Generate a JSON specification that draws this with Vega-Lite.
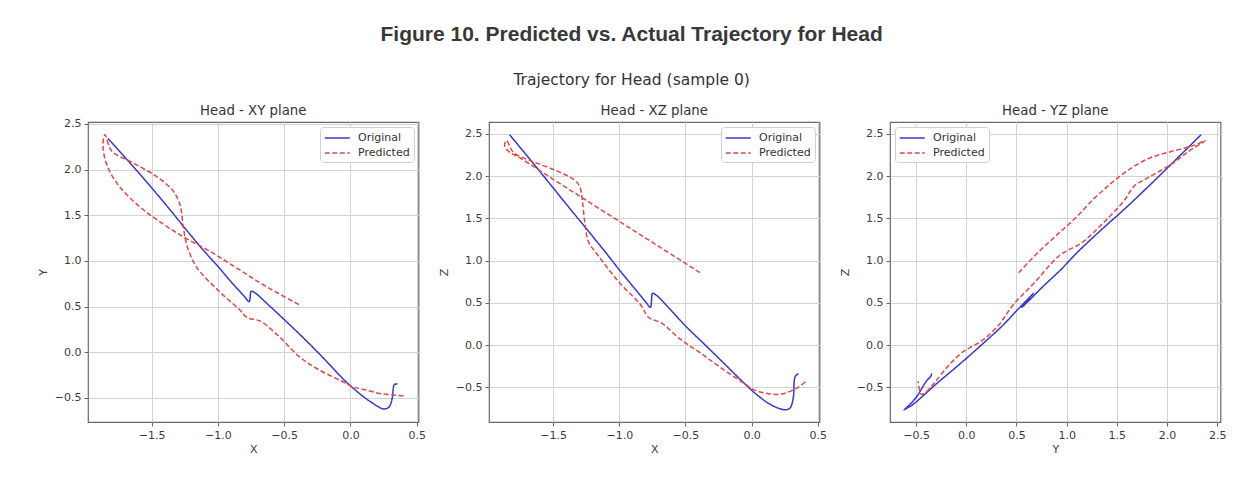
{
  "$schema": "https://vega.github.io/schema/vega-lite/v6.json",
  "background": "white",
  "padding": {"left": 36, "top": 24, "right": 5, "bottom": 5},
  "title": {
    "text": "Figure 10. Predicted vs. Actual Trajectory for Head",
    "subtitle": "Trajectory for Head (sample 0)",
    "font": "Liberation Sans",
    "fontSize": 21,
    "fontWeight": "bold",
    "color": "#383838",
    "subtitleFont": "DejaVu Sans",
    "subtitleFontSize": 15.5,
    "subtitleColor": "#333333",
    "subtitlePadding": 28,
    "anchor": "middle",
    "frame": "bounds",
    "offset": 14
  },
  "datasets": {
    "traj": [
      {"series": "Original", "t": 0, "x": -1.83, "y": 2.34, "z": 2.49},
      {"series": "Original", "t": 1, "x": -1.65, "y": 2.05, "z": 2.15},
      {"series": "Original", "t": 2, "x": -1.5, "y": 1.8, "z": 1.86},
      {"series": "Original", "t": 3, "x": -1.35, "y": 1.54, "z": 1.57},
      {"series": "Original", "t": 4, "x": -1.25, "y": 1.36, "z": 1.38},
      {"series": "Original", "t": 5, "x": -1.1, "y": 1.1, "z": 1.09},
      {"series": "Original", "t": 6, "x": -1.0, "y": 0.94, "z": 0.89},
      {"series": "Original", "t": 7, "x": -0.9, "y": 0.77, "z": 0.7},
      {"series": "Original", "t": 8, "x": -0.8, "y": 0.61, "z": 0.51},
      {"series": "Original", "t": 9, "x": -0.765, "y": 0.553, "z": 0.447},
      {"series": "Original", "t": 10, "x": -0.757, "y": 0.6, "z": 0.52},
      {"series": "Original", "t": 11, "x": -0.749, "y": 0.668, "z": 0.612},
      {"series": "Original", "t": 12, "x": -0.72, "y": 0.65, "z": 0.59},
      {"series": "Original", "t": 13, "x": -0.62, "y": 0.52, "z": 0.43},
      {"series": "Original", "t": 14, "x": -0.5, "y": 0.358, "z": 0.227},
      {"series": "Original", "t": 15, "x": -0.35, "y": 0.15, "z": 0.0},
      {"series": "Original", "t": 16, "x": -0.2, "y": -0.07, "z": -0.23},
      {"series": "Original", "t": 17, "x": -0.05, "y": -0.3, "z": -0.46},
      {"series": "Original", "t": 18, "x": 0.05, "y": -0.43, "z": -0.6},
      {"series": "Original", "t": 19, "x": 0.15, "y": -0.54, "z": -0.71},
      {"series": "Original", "t": 20, "x": 0.25, "y": -0.62, "z": -0.765},
      {"series": "Original", "t": 21, "x": 0.29, "y": -0.6, "z": -0.745},
      {"series": "Original", "t": 22, "x": 0.315, "y": -0.5, "z": -0.62},
      {"series": "Original", "t": 23, "x": 0.322, "y": -0.4, "z": -0.43},
      {"series": "Original", "t": 24, "x": 0.33, "y": -0.355, "z": -0.37},
      {"series": "Original", "t": 25, "x": 0.355, "y": -0.343, "z": -0.336},
      {"series": "Predicted", "t": 0, "x": -0.39, "y": 0.523, "z": 0.857},
      {"series": "Predicted", "t": 1, "x": -0.641, "y": 0.724, "z": 1.107},
      {"series": "Predicted", "t": 2, "x": -0.842, "y": 0.907, "z": 1.307},
      {"series": "Predicted", "t": 3, "x": -1.043, "y": 1.09, "z": 1.507},
      {"series": "Predicted", "t": 4, "x": -1.27, "y": 1.272, "z": 1.733},
      {"series": "Predicted", "t": 5, "x": -1.445, "y": 1.436, "z": 1.907},
      {"series": "Predicted", "t": 6, "x": -1.596, "y": 1.6, "z": 2.06},
      {"series": "Predicted", "t": 7, "x": -1.746, "y": 1.82, "z": 2.21},
      {"series": "Predicted", "t": 8, "x": -1.835, "y": 2.04, "z": 2.29},
      {"series": "Predicted", "t": 9, "x": -1.867, "y": 2.26, "z": 2.36},
      {"series": "Predicted", "t": 10, "x": -1.852, "y": 2.38, "z": 2.42},
      {"series": "Predicted", "t": 11, "x": -1.8, "y": 2.2, "z": 2.28},
      {"series": "Predicted", "t": 12, "x": -1.65, "y": 2.08, "z": 2.17},
      {"series": "Predicted", "t": 13, "x": -1.47, "y": 1.93, "z": 2.06},
      {"series": "Predicted", "t": 14, "x": -1.345, "y": 1.78, "z": 1.96},
      {"series": "Predicted", "t": 15, "x": -1.3, "y": 1.67, "z": 1.88},
      {"series": "Predicted", "t": 16, "x": -1.28, "y": 1.58, "z": 1.72},
      {"series": "Predicted", "t": 17, "x": -1.26, "y": 1.36, "z": 1.44},
      {"series": "Predicted", "t": 18, "x": -1.232, "y": 1.16, "z": 1.22},
      {"series": "Predicted", "t": 19, "x": -1.16, "y": 0.93, "z": 1.06},
      {"series": "Predicted", "t": 20, "x": -1.0, "y": 0.68, "z": 0.74},
      {"series": "Predicted", "t": 21, "x": -0.84, "y": 0.47, "z": 0.48},
      {"series": "Predicted", "t": 22, "x": -0.78, "y": 0.38, "z": 0.33},
      {"series": "Predicted", "t": 23, "x": -0.68, "y": 0.34, "z": 0.26},
      {"series": "Predicted", "t": 24, "x": -0.54, "y": 0.175, "z": 0.07},
      {"series": "Predicted", "t": 25, "x": -0.39, "y": -0.044, "z": -0.09},
      {"series": "Predicted", "t": 26, "x": -0.24, "y": -0.19, "z": -0.26},
      {"series": "Predicted", "t": 27, "x": -0.06, "y": -0.32, "z": -0.45},
      {"series": "Predicted", "t": 28, "x": 0.02, "y": -0.38, "z": -0.53},
      {"series": "Predicted", "t": 29, "x": 0.11, "y": -0.41, "z": -0.57},
      {"series": "Predicted", "t": 30, "x": 0.22, "y": -0.45, "z": -0.58},
      {"series": "Predicted", "t": 31, "x": 0.34, "y": -0.47, "z": -0.51},
      {"series": "Predicted", "t": 32, "x": 0.41, "y": -0.48, "z": -0.43}
    ]
  },
  "data": {"name": "traj"},
  "bounds": "flush",
  "spacing": 70,
  "resolve": {
    "scale": {"color": "independent", "strokeDash": "independent"},
    "legend": {"color": "independent", "strokeDash": "independent"}
  },
  "hconcat": [
    {
      "width": 330.5,
      "height": 300,
      "title": {"text": "Head - XY plane", "dy": 4},
      "mark": {"type": "line", "strokeWidth": 1.5, "interpolate": "catmull-rom", "clip": true},
      "encoding": {
        "x": {"field": "x", "type": "quantitative", "title": "X", "scale": {"domain": [-1.98, 0.513], "nice": false, "zero": false}, "axis": {"values": [-1.5, -1, -0.5, 0, 0.5], "format": ".1f"}},
        "y": {"field": "y", "type": "quantitative", "title": "Y", "scale": {"domain": [-0.763, 2.52], "nice": false, "zero": false}, "axis": {"values": [-0.5, 0, 0.5, 1, 1.5, 2, 2.5], "format": ".1f"}},
        "order": {"field": "t", "type": "quantitative"},
        "color": {"field": "series", "type": "nominal", "scale": {"domain": ["Original", "Predicted"], "range": ["#3838cc", "#e04848"]}, "legend": {"orient": "top-right", "title": null}},
        "strokeDash": {"field": "series", "type": "nominal", "scale": {"domain": ["Original", "Predicted"], "range": [[1, 0], [5, 2.5]]}, "legend": {"orient": "top-right", "title": null}}
      }
    },
    {
      "width": 330.5,
      "height": 300,
      "title": "Head - XZ plane",
      "mark": {"type": "line", "strokeWidth": 1.5, "interpolate": "catmull-rom", "clip": true},
      "encoding": {
        "x": {"field": "x", "type": "quantitative", "title": "X", "scale": {"domain": [-1.985, 0.513], "nice": false, "zero": false}, "axis": {"values": [-1.5, -1, -0.5, 0, 0.5], "format": ".1f"}},
        "y": {"field": "z", "type": "quantitative", "title": "Z", "scale": {"domain": [-0.91, 2.64], "nice": false, "zero": false}, "axis": {"values": [-0.5, 0, 0.5, 1, 1.5, 2, 2.5], "format": ".1f"}},
        "order": {"field": "t", "type": "quantitative"},
        "color": {"field": "series", "type": "nominal", "scale": {"domain": ["Original", "Predicted"], "range": ["#3838cc", "#e04848"]}, "legend": {"orient": "top-right", "title": null}},
        "strokeDash": {"field": "series", "type": "nominal", "scale": {"domain": ["Original", "Predicted"], "range": [[1, 0], [5, 2.5]]}, "legend": {"orient": "top-right", "title": null}}
      }
    },
    {
      "width": 330.5,
      "height": 300,
      "title": "Head - YZ plane",
      "mark": {"type": "line", "strokeWidth": 1.5, "interpolate": "catmull-rom", "clip": true},
      "encoding": {
        "x": {"field": "y", "type": "quantitative", "title": "Y", "scale": {"domain": [-0.76, 2.533], "nice": false, "zero": false}, "axis": {"values": [-0.5, 0, 0.5, 1, 1.5, 2, 2.5], "format": ".1f"}},
        "y": {"field": "z", "type": "quantitative", "title": "Z", "scale": {"domain": [-0.91, 2.64], "nice": false, "zero": false}, "axis": {"values": [-0.5, 0, 0.5, 1, 1.5, 2, 2.5], "format": ".1f"}},
        "order": {"field": "t", "type": "quantitative"},
        "color": {"field": "series", "type": "nominal", "scale": {"domain": ["Original", "Predicted"], "range": ["#3838cc", "#e04848"]}, "legend": {"orient": "top-left", "title": null}},
        "strokeDash": {"field": "series", "type": "nominal", "scale": {"domain": ["Original", "Predicted"], "range": [[1, 0], [5, 2.5]]}, "legend": {"orient": "top-left", "title": null}}
      }
    }
  ],
  "config": {
    "font": "DejaVu Sans",
    "view": {"stroke": "#6a6a6a", "strokeWidth": 1.2},
    "title": {"font": "DejaVu Sans", "fontSize": 13.3, "fontWeight": "normal", "color": "#333333", "offset": 5, "frame": "group"},
    "axis": {
      "labelFont": "DejaVu Sans",
      "labelFontSize": 11,
      "labelColor": "#3c3c3c",
      "titleFont": "DejaVu Sans",
      "titleFontSize": 11,
      "titleFontWeight": "normal",
      "titleColor": "#3c3c3c",
      "tickColor": "#666666",
      "tickSize": 4,
      "labelPadding": 3,
      "gridColor": "#d3d3d3",
      "gridWidth": 1,
      "domain": false
    },
    "axisX": {"titlePadding": 3},
    "axisY": {"titlePadding": 6},
    "legend": {
      "labelFont": "DejaVu Sans",
      "labelFontSize": 11,
      "labelColor": "#333333",
      "labelOffset": 20,
      "symbolType": "M-1,0H3",
      "symbolSize": 156,
      "symbolStrokeWidth": 1.5,
      "strokeColor": "#d0d0d0",
      "fillColor": "white",
      "padding": 4,
      "cornerRadius": 3,
      "offset": 5,
      "rowPadding": 3
    }
  }
}
